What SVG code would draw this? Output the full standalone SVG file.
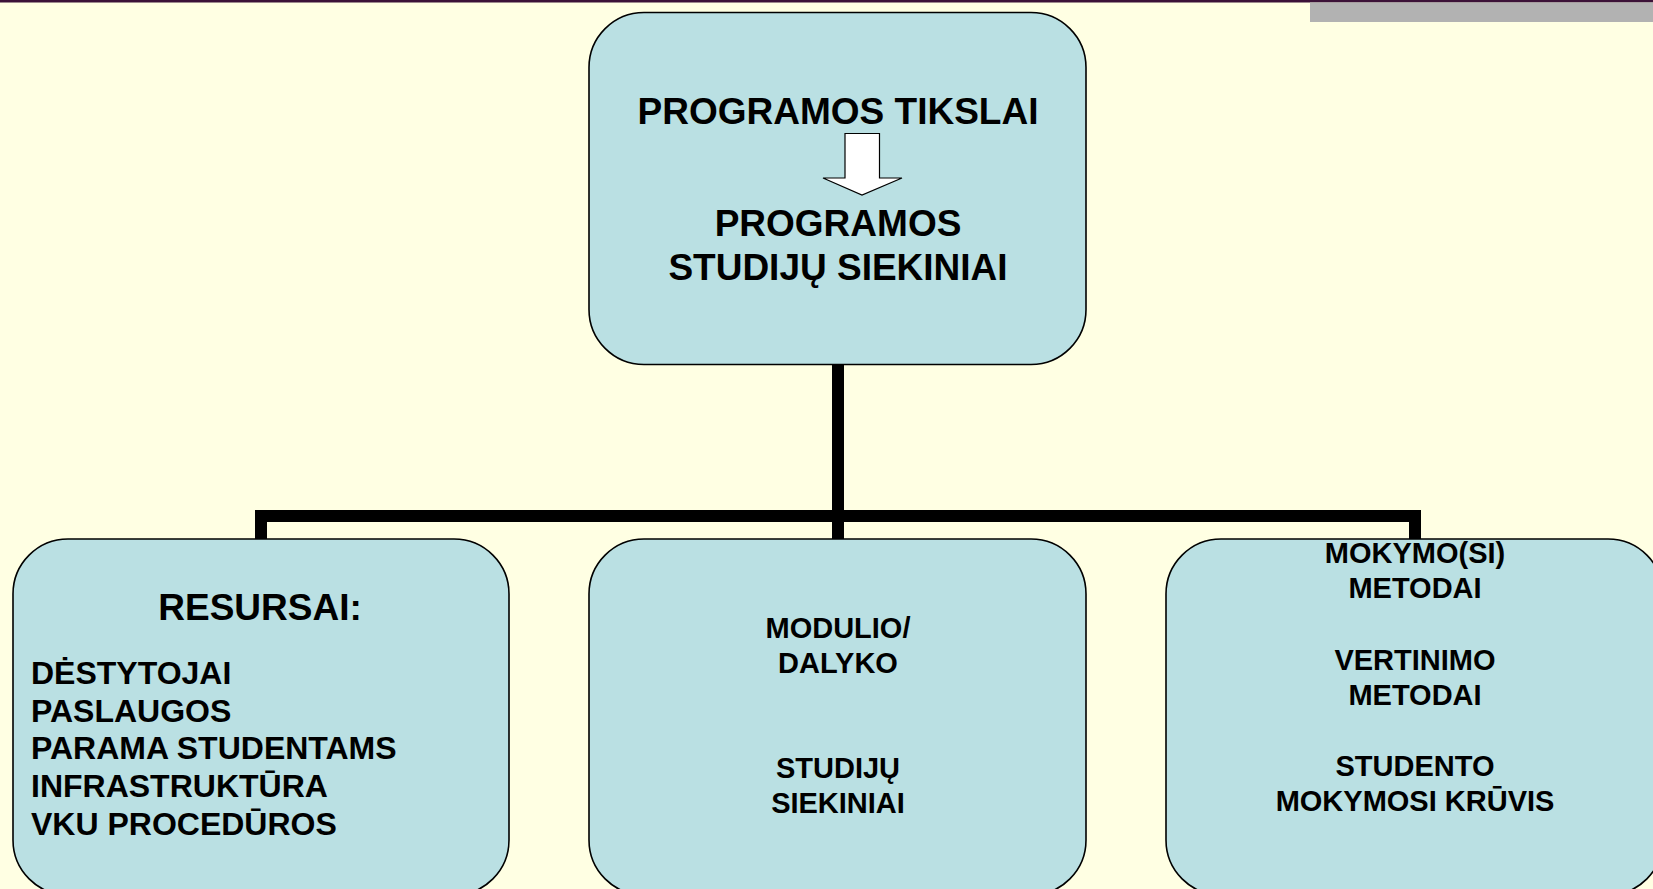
<svg xmlns="http://www.w3.org/2000/svg" width="1653" height="889" viewBox="0 0 1653 889">
<style>
.box{fill:#BAE0E3;stroke:#000;stroke-width:1.6}
.t{font-family:"Liberation Sans",Arial,sans-serif;font-weight:bold;fill:#000}
.c{text-anchor:middle}
.conn{fill:none;stroke:#000;stroke-width:12;stroke-linejoin:miter;stroke-linecap:butt}
</style>
<rect x="0" y="0" width="1653" height="889" fill="#FFFFE3"/>
<rect x="0" y="0" width="1653" height="2.5" fill="#3C1238"/>
<rect x="1310" y="2.5" width="343" height="19.5" fill="#B2B2B2"/>
<g id="connectors">
<path class="conn" d="M261,539 V516 H1415 V539"/>
<path class="conn" d="M838,365 V539"/>
</g>
<g id="node-top">
<rect class="box" x="589" y="12.5" width="497" height="352" rx="55" ry="55"/>
<text class="t c" x="838" y="124" font-size="37">PROGRAMOS TIKSLAI</text>
<path d="M845,133.5 H879.5 V178 H902 L862,195 L823,178 H845 Z" fill="#FFFFFF" stroke="#000" stroke-width="1.2"/>
<text class="t c" x="838" y="236" font-size="37">PROGRAMOS</text>
<text class="t c" x="838" y="280" font-size="37">STUDIJŲ SIEKINIAI</text>
</g>
<g id="node-resursai">
<rect class="box" x="13" y="539" width="496" height="356" rx="55" ry="55"/>
<text class="t c" x="260" y="620" font-size="37">RESURSAI:</text>
<text class="t" x="31" y="684" font-size="32">DĖSTYTOJAI</text>
<text class="t" x="31" y="722" font-size="32">PASLAUGOS</text>
<text class="t" x="31" y="759" font-size="32">PARAMA STUDENTAMS</text>
<text class="t" x="31" y="797" font-size="32">INFRASTRUKTŪRA</text>
<text class="t" x="31" y="835" font-size="32">VKU PROCEDŪROS</text>
</g>
<g id="node-modulio">
<rect class="box" x="589" y="539" width="497" height="356" rx="55" ry="55"/>
<text class="t c" x="838" y="638" font-size="29">MODULIO/</text>
<text class="t c" x="838" y="673" font-size="29">DALYKO</text>
<text class="t c" x="838" y="778" font-size="29">STUDIJŲ</text>
<text class="t c" x="838" y="813" font-size="29">SIEKINIAI</text>
</g>
<g id="node-metodai">
<rect class="box" x="1166" y="539" width="497" height="356" rx="55" ry="55"/>
<text class="t c" x="1415" y="563" font-size="29">MOKYMO(SI)</text>
<text class="t c" x="1415" y="598" font-size="29">METODAI</text>
<text class="t c" x="1415" y="670" font-size="29">VERTINIMO</text>
<text class="t c" x="1415" y="705" font-size="29">METODAI</text>
<text class="t c" x="1415" y="776" font-size="29">STUDENTO</text>
<text class="t c" x="1415" y="811" font-size="29">MOKYMOSI KRŪVIS</text>
</g>
</svg>
